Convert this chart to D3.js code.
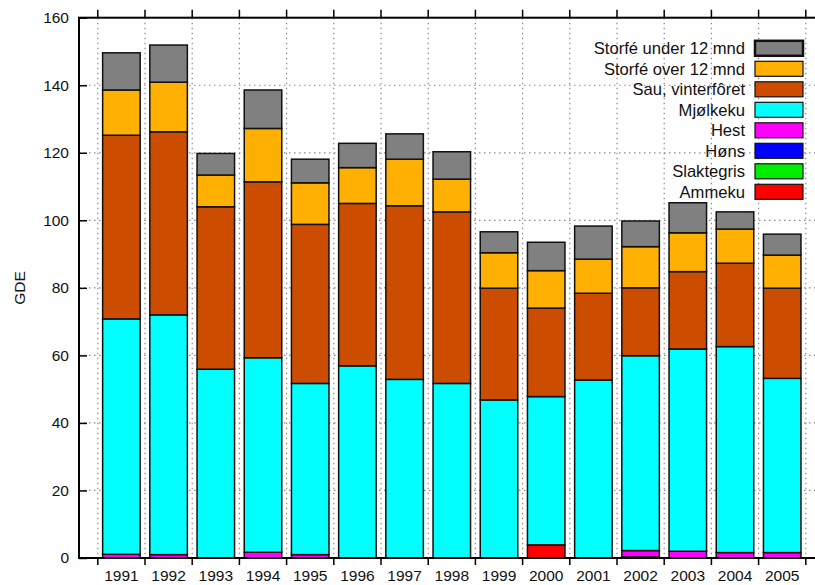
<!DOCTYPE html>
<html>
<head>
<meta charset="utf-8">
<script src="https://cdn.jsdelivr.net/npm/d3@7"></script>
<style>
  body { margin: 0; background: #fff; }
  svg { display: block; font-family: "Liberation Sans", Arial, Helvetica, sans-serif; }
</style>
</head>
<body>
<script>
// data (GDE per category, stacked bottom -> top)
const years = ['1991','1992','1993','1994','1995','1996','1997','1998','1999','2000','2001','2002','2003','2004','2005'];
const ammeku      = [0, 0, 0, 0, 0, 0, 0, 0, 0, 3.9, 0, 0, 0, 0, 0];
const slaktegris  = [0, 0, 0, 0, 0, 0, 0, 0, 0, 0, 0, 0, 0, 0, 0];
const hons        = [0, 0, 0, 0, 0, 0, 0, 0, 0, 0, 0, 0.3, 0, 0, 0];
const hest        = [1.1, 1.0, 0, 1.7, 1.0, 0, 0, 0, 0, 0, 0, 1.9, 2.0, 1.6, 1.6];
const mjolkeku    = [69.7, 71.0, 55.9, 57.6, 50.7, 56.9, 52.9, 51.7, 46.8, 43.9, 52.7, 57.7, 59.9, 61.0, 51.6];
const sau         = [54.4, 54.2, 48.1, 52.1, 47.1, 48.1, 51.4, 50.8, 33.1, 26.2, 25.7, 20.1, 22.9, 24.7, 26.7];
const storfeOver  = [13.4, 14.7, 9.4, 15.8, 12.3, 10.6, 13.8, 9.7, 10.5, 11.1, 10.1, 12.2, 11.5, 10.1, 9.8];
const storfeUnder = [11.0, 11.0, 6.4, 11.4, 7.0, 7.2, 7.5, 8.1, 6.2, 8.4, 9.8, 7.6, 8.9, 5.1, 6.2];
const yTicks = [0, 20, 40, 60, 80, 100, 120, 140, 160];

const series = [
  {key: 'Ammeku', values: ammeku, color: '#ff0000'},
  {key: 'Slaktegris', values: slaktegris, color: '#00ee00'},
  {key: 'Høns', values: hons, color: '#0000ff'},
  {key: 'Hest', values: hest, color: '#ff00ff'},
  {key: 'Mjølkeku', values: mjolkeku, color: '#00ffff'},
  {key: 'Sau, vinterfôret', values: sau, color: '#cc4c00'},
  {key: 'Storfé over 12 mnd', values: storfeOver, color: '#ffb000'},
  {key: 'Storfé under 12 mnd', values: storfeUnder, color: '#808080'}
];

const rows = years.map((yr, i) => {
  const r = {year: yr};
  series.forEach(s => r[s.key] = s.values[i]);
  return r;
});

const width = 815, height = 585;
const frame = {left: 79, right: 825, top: 17.7, bottom: 558};

const svg = d3.select('body').append('svg')
  .attr('width', width)
  .attr('height', height);

const x = d3.scaleBand()
  .domain(years)
  .range([97.8, 805.8])
  .paddingInner(0.205)
  .paddingOuter(0.1025);

const y = d3.scaleLinear()
  .domain([0, 160])
  .range([frame.bottom, frame.top]);

const color = d3.scaleOrdinal()
  .domain(series.map(s => s.key))
  .range(series.map(s => s.color));

const half = (x.step() - x.bandwidth()) / 2;
const bounds = years.map(d => x(d) - half).concat([x(years[years.length - 1]) + x.bandwidth() + half]);

// grid
const grid = svg.append('g')
  .attr('stroke', '#8a8a8a')
  .attr('stroke-width', 1.2)
  .attr('stroke-dasharray', '1.5,3.5');

grid.selectAll('.hg')
  .data(yTicks.filter(t => t > 0 && t < 160))
  .enter().append('line')
    .attr('x1', frame.left).attr('x2', frame.right)
    .attr('y1', d => y(d)).attr('y2', d => y(d));

grid.selectAll('.vg')
  .data(bounds)
  .enter().append('line')
    .attr('x1', d => d).attr('x2', d => d)
    .attr('y1', frame.top).attr('y2', frame.bottom);

// bars
const stacked = d3.stack().keys(series.map(s => s.key))(rows);

svg.append('g')
  .selectAll('g')
  .data(stacked)
  .enter().append('g')
    .attr('fill', d => color(d.key))
    .attr('stroke', '#111')
    .attr('stroke-width', 1.5)
  .selectAll('rect')
  .data(d => d.filter(p => p[1] - p[0] > 0))
  .enter().append('rect')
    .attr('x', p => x(p.data.year))
    .attr('width', x.bandwidth())
    .attr('y', p => y(p[1]))
    .attr('height', p => y(p[0]) - y(p[1]));

// frame
svg.append('rect')
  .attr('x', frame.left)
  .attr('y', frame.top)
  .attr('width', frame.right - frame.left)
  .attr('height', frame.bottom - frame.top)
  .attr('fill', 'none')
  .attr('stroke', '#000')
  .attr('stroke-width', 2);

// y axis (ticks inward)
const yAxis = d3.axisLeft(y)
  .tickValues(yTicks)
  .tickSize(-8)
  .tickPadding(10);

svg.append('g')
  .attr('transform', `translate(${frame.left},0)`)
  .call(yAxis)
  .call(g => g.select('.domain').remove())
  .call(g => g.selectAll('line').attr('stroke', '#000').attr('stroke-width', 1.5))
  .call(g => g.selectAll('text').style('font-size', '15.5px').attr('fill', '#111'));

// x axis labels at bar centres
const xAxis = d3.axisBottom(x)
  .tickSize(0)
  .tickPadding(12);

svg.append('g')
  .attr('transform', `translate(0,${frame.bottom})`)
  .call(xAxis)
  .call(g => g.select('.domain').remove())
  .call(g => g.selectAll('text').style('font-size', '15.5px').attr('fill', '#111'));

// x tick marks at slot boundaries, bottom and top (outward)
const xt = svg.append('g').attr('stroke', '#000').attr('stroke-width', 1.5);
xt.selectAll('.bt').data(bounds).enter().append('line')
  .attr('x1', d => d).attr('x2', d => d)
  .attr('y1', frame.bottom).attr('y2', frame.bottom + 7);
xt.selectAll('.tt').data(bounds).enter().append('line')
  .attr('x1', d => d).attr('x2', d => d)
  .attr('y1', frame.top).attr('y2', frame.top - 8);

// y label
svg.append('text')
  .attr('transform', 'translate(25,288) rotate(-90)')
  .attr('text-anchor', 'middle')
  .style('font-size', '15.5px')
  .attr('fill', '#111')
  .text('GDE');

// legend (top to bottom = reverse stacking order)
const legend = svg.append('g')
  .selectAll('g')
  .data(series.slice().reverse())
  .enter().append('g')
    .attr('transform', (d, i) => `translate(0,${48.3 + i * 20.5})`);

legend.append('text')
  .attr('x', 745)
  .attr('dy', '0.35em')
  .attr('text-anchor', 'end')
  .style('font-size', '16.6px')
  .attr('fill', '#111')
  .text(d => d.key);

legend.append('rect')
  .attr('x', 755)
  .attr('y', -7.5)
  .attr('width', 48)
  .attr('height', 15)
  .attr('fill', d => d.color)
  .attr('stroke', '#111')
  .attr('stroke-width', (d, i) => i === 0 ? 2.5 : 1.2);
</script>
</body>
</html>
